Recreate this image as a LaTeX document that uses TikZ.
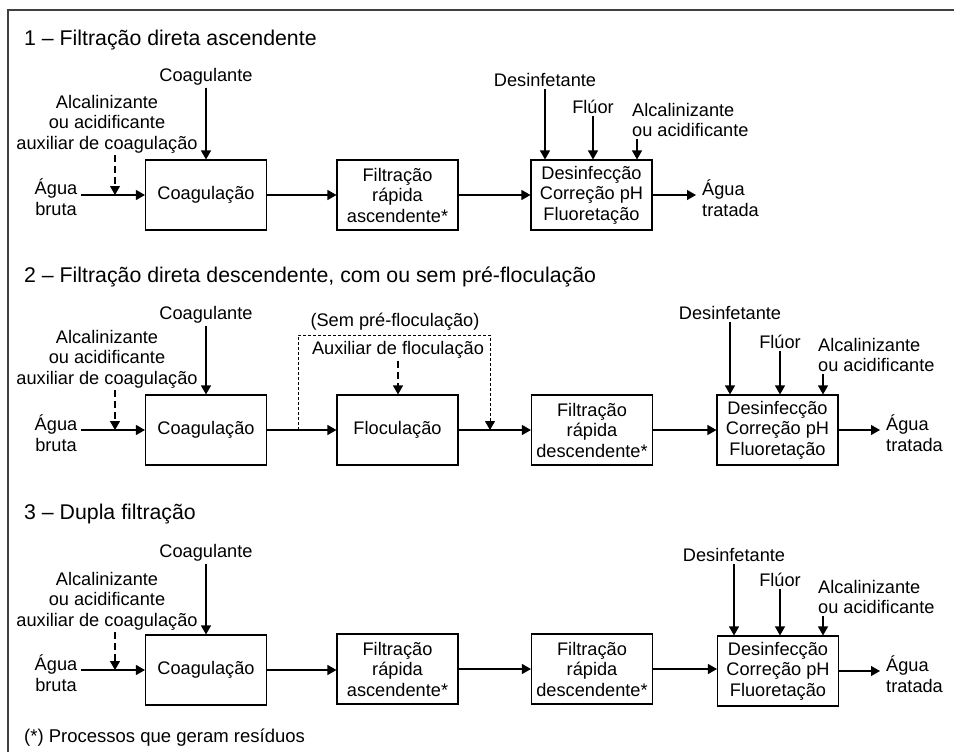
\documentclass[tikz,border=0pt]{standalone}
\usepackage{fontspec}
\setmainfont{Liberation Sans}
\usetikzlibrary{arrows.meta}
\newcommand{\bodyfont}{\fontsize{18.2}{20.5}\selectfont}
\newcommand{\titlefont}{\fontsize{21.3}{24}\selectfont}
\tikzset{
  proc/.style={draw, line width=1.1pt, minimum width=121pt, minimum height=70pt,
    align=center, inner sep=0pt, font=\bodyfont},
  lbl/.style={align=center, inner sep=2pt, font=\bodyfont},
  lbll/.style={align=left, anchor=west, inner sep=2pt, font=\bodyfont},
  sec/.style={anchor=west, inner sep=0pt, font=\titlefont},
  flow/.style={-{Triangle[length=9pt,width=10pt]}, line width=1.1pt},
  dfeed/.style={flow, dash pattern=on 7pt off 4pt},
  bypass/.style={flow, line width=0.9pt, dash pattern=on 3pt off 2pt},
}
\begin{document}
\begin{tikzpicture}[x=1pt,y=-1pt]
  \useasboundingbox (0,0) rectangle (954,752);
  \draw[line width=1.5pt, black!75] (8,752) -- (8,10) -- (954,10);

  \node[sec] (t1) at (24,40) {1 -- Filtração direta ascendente};
  \node[proc] (coag1) at (206,195) {Coagulação};
  \node[proc] (fra1) at (397.5,195) {Filtração\\rápida\\ascendente*};
  \node[proc] (dis1) at (591.5,195) {Desinfecção\\Correção pH\\Fluoretação};
  \node[lbl] (coagl1) at (206,77) {Coagulante};
  \node[lbl] (alk1) at (107,124) {Alcalinizante\\ou acidificante\\auxiliar de coagulação};
  \node[lbl,inner sep=4pt] (bruta1) at (56,197) {Água\\bruta};
  \node[lbl] (desl1) at (545,80) {Desinfetante};
  \node[lbl] (flu1) at (593,107) {Flúor};
  \node[lbll] (alkd1) at (630,120) {Alcalinizante\\ou acidificante};
  \node[lbll,inner sep=6pt] (trat1) at (696,198) {Água\\tratada};
  \coordinate (j1) at (115,195);
  \coordinate (a1) at ([xshift=7pt]alkd1.south west);
  \draw[flow] (bruta1.east |- coag1) -- (coag1);
  \draw[dfeed] (alk1.south -| j1) -- (j1);
  \draw[flow] (coagl1.south) -- (coagl1.south |- coag1.north);
  \draw[flow] (coag1) -- (fra1);
  \draw[flow] (fra1) -- (dis1);
  \draw[flow] (desl1.south) -- (desl1.south |- dis1.north);
  \draw[flow] (flu1.south) -- (flu1.south |- dis1.north);
  \draw[flow] (a1) -- (a1 |- dis1.north);
  \draw[flow] (dis1) -- (trat1.west |- dis1);

  \node[sec] (t2) at (24,277) {2 -- Filtração direta descendente, com ou sem pré-floculação};
  \node[proc] (coag2) at (206,430) {Coagulação};
  \node[proc] (floc2) at (397.5,430) {Floculação};
  \node[proc] (frd2) at (592,430) {Filtração\\rápida\\descendente*};
  \node[proc] (dis2) at (777.5,430) {Desinfecção\\Correção pH\\Fluoretação};
  \node[lbl] (coagl2) at (206,315) {Coagulante};
  \node[lbl] (alk2) at (107,359) {Alcalinizante\\ou acidificante\\auxiliar de coagulação};
  \node[lbl,inner sep=4pt] (bruta2) at (56,433) {Água\\bruta};
  \node[lbl] (sem2) at (395,322) {(Sem pré-floculação)};
  \node[lbl] (aux2) at (398,350) {Auxiliar de floculação};
  \node[lbl] (desl2) at (730,313) {Desinfetante};
  \node[lbl] (flu2) at (780,342) {Flúor};
  \node[lbll] (alkd2) at (816,355) {Alcalinizante\\ou acidificante};
  \node[lbll,inner sep=6pt] (trat2) at (880,433) {Água\\tratada};
  \coordinate (j2) at (115,430);
  \coordinate (b1) at (298,430);
  \coordinate (b2) at (490,430);
  \coordinate (a2) at ([xshift=7pt]alkd2.south west);
  \draw[flow] (bruta2.east |- coag2) -- (coag2);
  \draw[dfeed] (alk2.south -| j2) -- (j2);
  \draw[flow] (coagl2.south) -- (coagl2.south |- coag2.north);
  \draw[flow] (coag2) -- (floc2);
  \draw[flow] (floc2) -- (frd2);
  \draw[bypass] (b1) -- (b1 |- 0,335) -- (b2 |- 0,335) -- (b2);
  \draw[dfeed] (aux2.south) -- (aux2.south |- floc2.north);
  \draw[flow] (frd2) -- (dis2);
  \draw[flow] (desl2.south) -- (desl2.south |- dis2.north);
  \draw[flow] (flu2.south) -- (flu2.south |- dis2.north);
  \draw[flow] (a2) -- (a2 |- dis2.north);
  \draw[flow] (dis2) -- (trat2.west |- dis2);

  \node[sec] (t3) at (24,514) {3 -- Dupla filtração};
  \node[proc] (coag3) at (206,670) {Coagulação};
  \node[proc] (fra3) at (397.5,669) {Filtração\\rápida\\ascendente*};
  \node[proc] (frd3) at (592,669) {Filtração\\rápida\\descendente*};
  \node[proc] (dis3) at (778,671) {Desinfecção\\Correção pH\\Fluoretação};
  \node[lbl] (coagl3) at (206,553) {Coagulante};
  \node[lbl] (alk3) at (107,601) {Alcalinizante\\ou acidificante\\auxiliar de coagulação};
  \node[lbl,inner sep=4pt] (bruta3) at (56,673) {Água\\bruta};
  \node[lbl] (desl3) at (734,555) {Desinfetante};
  \node[lbl] (flu3) at (780,580) {Flúor};
  \node[lbll] (alkd3) at (816,597) {Alcalinizante\\ou acidificante};
  \node[lbll,inner sep=6pt] (trat3) at (880,674) {Água\\tratada};
  \coordinate (j3) at (115,670);
  \coordinate (a3) at ([xshift=7pt]alkd3.south west);
  \draw[flow] (bruta3.east |- coag3) -- (coag3);
  \draw[dfeed] (alk3.south -| j3) -- (j3);
  \draw[flow] (coagl3.south) -- (coagl3.south |- coag3.north);
  \draw[flow] (coag3) -- (fra3.west |- coag3);
  \draw[flow] (fra3) -- (frd3);
  \draw[flow] (frd3) -- (dis3.west |- frd3);
  \draw[flow] (desl3.south) -- (desl3.south |- dis3.north);
  \draw[flow] (flu3.south) -- (flu3.south |- dis3.north);
  \draw[flow] (a3) -- (a3 |- dis3.north);
  \draw[flow] (dis3) -- (trat3.west |- dis3);

  \node[sec,font=\fontsize{18.5}{21}\selectfont] (nota) at (24,738) {(*) Processos que geram resíduos};
\end{tikzpicture}
\end{document}
